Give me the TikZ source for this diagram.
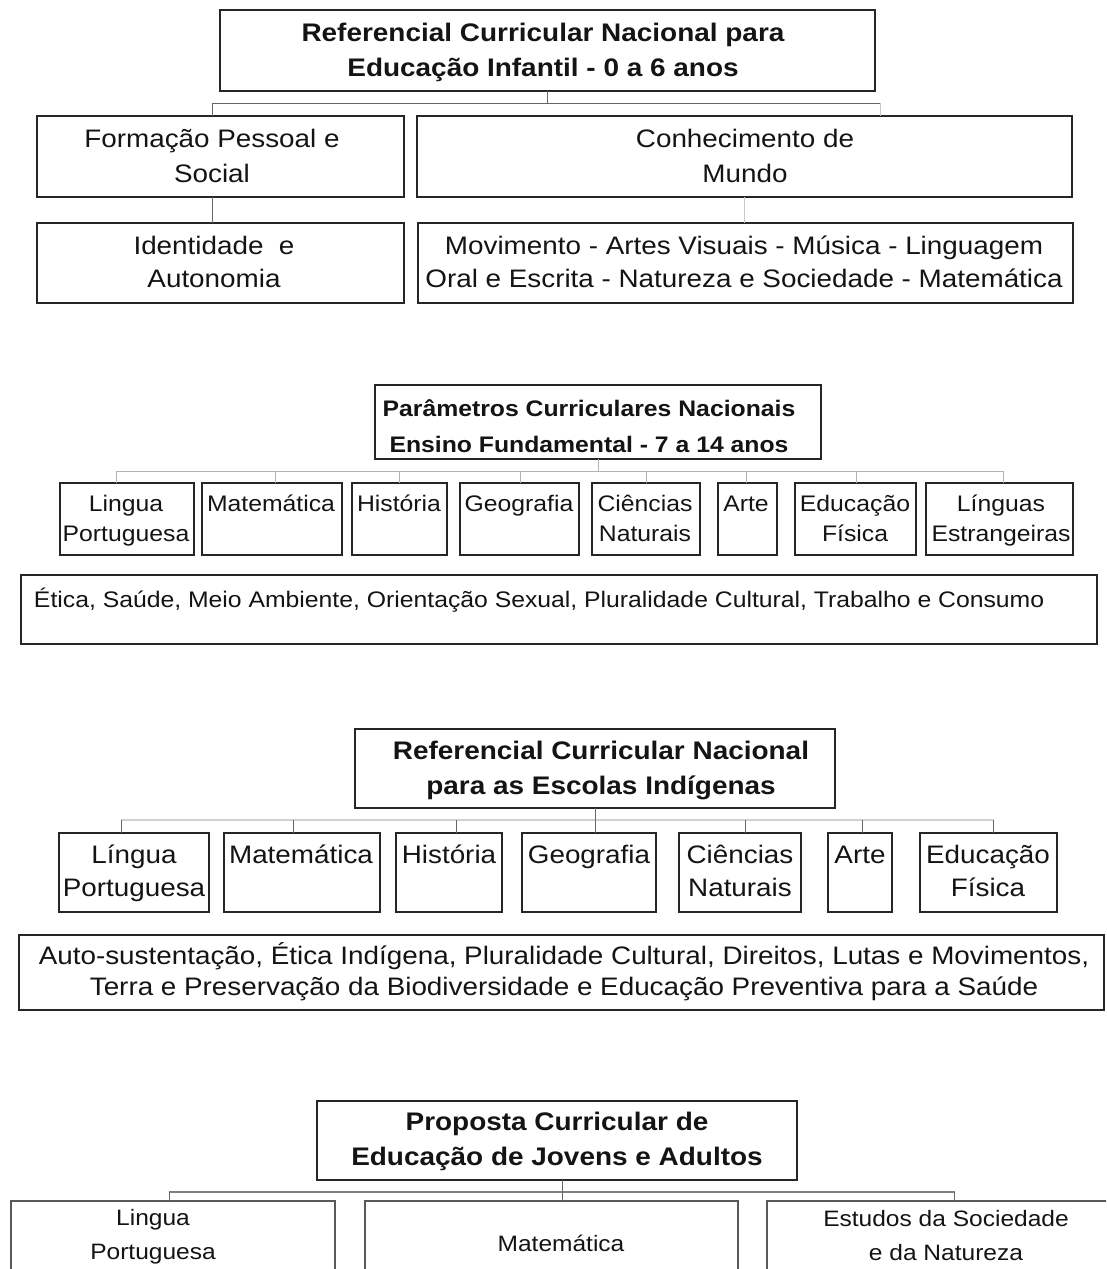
\documentclass[tikz,border=0pt]{standalone}
\usepackage{fontspec}
\setmainfont{Liberation Sans}[FakeStretch=1.1]
\usetikzlibrary{calc}
\newcommand{\bx}[6][]{\node[bxs,#1,minimum width={(#5)-(#3)},minimum height={(#6)-(#4)}] (#2) at ({((#3)+(#5))/2},{((#4)+(#6))/2}) {};}
\newcommand{\tl}[2]{\strut#1\\\strut#2}
\tikzset{
  bxs/.style={rectangle, draw=black!85, line width=1.8pt, inner sep=0pt, outer sep=0pt},
  bxg/.style={draw=black!65, line width=2.6pt},
  tx/.style={inner sep=0pt, outer sep=0pt, align=center, text=black!92},
  fbA/.style={font=\fontsize{25.4}{35}\selectfont\bfseries},
  fbB/.style={font=\fontsize{22.5}{36}\selectfont\bfseries},
  frA/.style={font=\fontsize{25.3}{35}\selectfont},
  frA2/.style={font=\fontsize{25.3}{33}\selectfont},
  frB/.style={font=\fontsize{22.5}{30}\selectfont},
  frC/.style={font=\fontsize{25.3}{31}\selectfont},
  frD/.style={font=\fontsize{22.3}{34}\selectfont},
  cg/.style={draw=black!60, line width=1pt},
  cl/.style={draw=black!22, line width=1pt},
  cl2/.style={draw=black!30, line width=0.8pt},
  cbar/.style={draw=black!18, line width=2.5pt},
  cbar4/.style={draw=black!50, line width=2.5pt},
}
\begin{document}
\begin{tikzpicture}[x=1pt,y=-1pt]
\useasboundingbox (0,0) rectangle (1106,1269);
\fill[white] (0,0) rectangle (1106,1269);
\clip (0,0) rectangle (1106,1269);

% ---------------- Section 1 ----------------
\bx{r1}{220}{10}{875}{91}
\bx{f1}{37}{116}{404}{197}
\bx{c1}{417}{116}{1072}{197}
\bx{i1}{37}{223}{404}{303}
\bx{m1}{418}{223}{1073}{303}
\node[tx,fbA] (r1t) at (543,52) {\tl{Referencial Curricular Nacional para}{Educação Infantil - 0 a 6 anos}};
\node[tx,frA] (f1t) at (212,158) {\tl{Formação Pessoal e}{Social}};
\node[tx,frA] (c1t) at (745,158) {\tl{Conhecimento de}{Mundo}};
\node[tx,frA2] (i1t) at (214,264) {\tl{Identidade\ \ e}{Autonomia}};
\node[tx,frA2] (m1t) at (744,264) {\tl{Movimento - Artes Visuais - Música - Linguagem}{Oral e Escrita - Natureza e Sociedade - Matemática}};

\coordinate (b1l) at (212.5,103);
\coordinate (b1r) at (880.5,103);
\draw[cg] (r1.south) -- (r1.south |- b1l);
\draw[cg] (b1l) -- (b1r);
\draw[cg] (b1l) -- (b1l |- f1.north);
\draw[cl] (b1r) -- (b1r |- c1.north);
\draw[cg] (b1l |- f1.south) -- (b1l |- i1.north);
\draw[cl] (c1.south) -- (c1.south |- m1.north);

% ---------------- Section 2 ----------------
\bx{p2}{375}{385}{821}{459}
\bx{lp2}{60}{483}{194}{555}
\bx{ma2}{202}{483}{342}{555}
\bx{hi2}{352}{483}{447}{555}
\bx{ge2}{460}{483}{579}{555}
\bx{ci2}{592}{483}{700}{555}
\bx{ar2}{718}{483}{777}{555}
\bx{ed2}{795}{483}{916}{555}
\bx{li2}{926}{483}{1073}{555}
\bx{et2}{21}{575}{1097}{644}
\node[tx,fbB] (p2t) at (589,427) {\tl{Parâmetros Curriculares Nacionais}{Ensino Fundamental - 7 a 14 anos}};
\node[tx,frB] (lp2t) at (126,520) {\tl{Lingua}{Portuguesa}};
\node[tx,frB] (ma2t) at (271,520) {\tl{Matemática}{}};
\node[tx,frB] (hi2t) at (399,520) {\tl{História}{}};
\node[tx,frB] (ge2t) at (519,520) {\tl{Geografia}{}};
\node[tx,frB] (ci2t) at (645,520) {\tl{Ciências}{Naturais}};
\node[tx,frB] (ar2t) at (746,520) {\tl{Arte}{}};
\node[tx,frB] (ed2t) at (855,520) {\tl{Educação}{Física}};
\node[tx,frB] (li2t) at (1001,520) {\tl{Línguas}{Estrangeiras}};
\node[tx,frB,anchor=west] (et2t) at (34,601) {\strut Ética, Saúde, Meio Ambiente, Orientação Sexual, Pluralidade Cultural, Trabalho e Consumo};

\coordinate (b2) at (0,471);
\draw[cl2] (p2.south) -- (p2.south |- b2);
\draw[cl2] ($(lp2.north |- b2)+(-11,0)$) -- ($(li2.north |- b2)+(4,0)$);
\foreach \n/\s in {lp2/-11, ma2/3, hi2/0, ge2/1, ci2/0, ar2/-1, ed2/1, li2/4}
  {\draw[cl2] ($(\n.north)+(\s,0)$) -- ($(\n.north |- b2)+(\s,0)$);}

% ---------------- Section 3 ----------------
\bx{r3}{355}{729}{835}{808}
\bx{lp3}{59}{833}{209}{912}
\bx{ma3}{224}{833}{380}{912}
\bx{hi3}{396}{833}{502}{912}
\bx{ge3}{522}{833}{656}{912}
\bx{ci3}{679}{833}{801}{912}
\bx{ar3}{828}{833}{892}{912}
\bx{ed3}{920}{833}{1057}{912}
\bx{au3}{19}{935}{1104}{1010}
\node[tx,fbA] (r3t) at (601,770) {\tl{Referencial Curricular Nacional}{para as Escolas Indígenas}};
\node[tx,frA2] (lp3t) at (134,873) {\tl{Língua}{Portuguesa}};
\node[tx,frA2] (ma3t) at (301,873) {\tl{Matemática}{}};
\node[tx,frA2] (hi3t) at (449,873) {\tl{História}{}};
\node[tx,frA2] (ge3t) at (589,873) {\tl{Geografia}{}};
\node[tx,frA2] (ci3t) at (740,873) {\tl{Ciências}{Naturais}};
\node[tx,frA2] (ar3t) at (860,873) {\tl{Arte}{}};
\node[tx,frA2] (ed3t) at (988,873) {\tl{Educação}{Física}};
\node[tx,frC] (au3t) at (564,974) {\tl{Auto-sustentação, Ética Indígena, Pluralidade Cultural, Direitos, Lutas e Movimentos,}{Terra e Preservação da Biodiversidade e Educação Preventiva para a Saúde}};

\coordinate (b3) at (0,820);
\draw[cbar] ($(lp3.north |- b3)+(-13,0)$) -- ($(ed3.north |- b3)+(5,0)$);
\draw[cg] (r3.south) -- (r3.south |- ge3.north);
\foreach \n/\s in {lp3/-13, ma3/-9, hi3/7, ci3/5, ar3/2, ed3/5}
  {\draw[cg] ($(\n.north)+(\s,0)$) -- ($(\n.north |- b3)+(\s,0)$);}

% ---------------- Section 4 ----------------
\bx{r4}{317}{1101}{797}{1180}
\bx[bxg]{lp4}{11}{1201}{335}{1290}
\bx[bxg]{ma4}{365}{1201}{738}{1290}
\bx[bxg]{es4}{767}{1201}{1125}{1290}
\node[tx,fbA] (r4t) at (557,1141) {\tl{Proposta Curricular de}{Educação de Jovens e Adultos}};
\node[tx,frD] (lp4t) at (153,1236) {\tl{Lingua}{Portuguesa}};
\node[tx,frD,anchor=center] (ma4t) at (561,1245) {\strut Matemática};
\node[tx,frD] (es4t) at (946,1237) {\tl{Estudos da Sociedade}{e da Natureza}};

\coordinate (b4) at (0,1192);
\coordinate (v4) at ($(r4.south)+(5,0)$);
\draw[cbar4] ($(lp4.north |- b4)+(-4,0)$) -- ($(es4.north |- b4)+(8.5,0)$);
\draw[cg] (v4) -- (v4 |- ma4.north);
\draw[cg] ($(lp4.north |- b4)+(-4,0)$) -- ($(lp4.north)+(-4,0)$);
\draw[cg] ($(es4.north |- b4)+(8.5,0)$) -- ($(es4.north)+(8.5,0)$);
\end{tikzpicture}
\end{document}
